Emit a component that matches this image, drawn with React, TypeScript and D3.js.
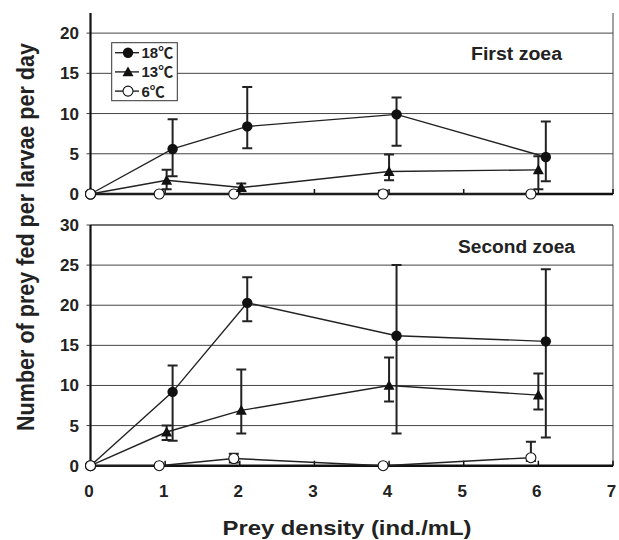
import React from "react";
import * as d3 from "d3";

// prey density (ind./mL), shifted a bit per series as in the figure
const x18 = [0, 1.1, 2.1, 4.1, 6.1];
const x13 = [0, 1.02, 2.02, 4.0, 6.0];
const x6 = [0, 0.92, 1.92, 3.92, 5.9];

// First zoea
const first18 = [0, 5.6, 8.4, 9.9, 4.6];
const first18Hi = [0, 9.3, 13.3, 12.0, 9.0];
const first18Lo = [0, 2.2, 5.7, 6.0, 1.6];
const first13 = [0, 1.7, 0.8, 2.8, 3.0];
const first13Hi = [0, 3.0, 1.3, 4.9, 4.7];
const first13Lo = [0, 0.6, 0.4, 1.7, 0.6];
const first6 = [0, 0, 0, 0, 0];
const first6Hi = [0, 0, 0.2, 0.4, 0.2];
const first6Lo = [0, 0, 0, 0, 0];

// Second zoea
const second18 = [0, 9.2, 20.3, 16.2, 15.5];
const second18Hi = [0, 12.5, 23.5, 25.0, 24.5];
const second18Lo = [0, 3.1, 18.0, 4.0, 3.5];
const second13 = [0, 4.2, 6.9, 10.0, 8.8];
const second13Hi = [0, 5.0, 12.0, 13.5, 11.5];
const second13Lo = [0, 3.2, 4.0, 8.0, 7.0];
const second6 = [0, 0, 0.9, 0, 1.0];
const second6Hi = [0, 0, 1.5, 0, 3.0];
const second6Lo = [0, 0, 0.4, 0, 0.6];

const xTicks = [0, 1, 2, 3, 4, 5, 6, 7];
const firstTicks = [0, 5, 10, 15, 20];
const secondTicks = [0, 5, 10, 15, 20, 25, 30];
const legendLabels = ["18℃", "13℃", "6℃"];

const FONT = "'Liberation Sans', Arial, 'Noto Sans CJK JP', sans-serif";

type Series = { xs: number[]; ys: number[]; hi: number[]; lo: number[]; kind: string };

const x = d3.scaleLinear().domain([0, 7]).range([90.5, 613]);

const Marker = ({ kind, cx, cy }: { kind: string; cx: number; cy: number }) => {
  if (kind === "tri") {
    const s = 5.5;
    return <path d={`M${cx},${cy - s}L${cx + s},${cy + s * 0.8}L${cx - s},${cy + s * 0.8}Z`} fill="#111" />;
  }
  if (kind === "open") return <circle cx={cx} cy={cy} r={5} fill="#fff" stroke="#111" strokeWidth={1.1} />;
  return <circle cx={cx} cy={cy} r={5.2} fill="#111" />;
};

const Panel = ({
  y,
  ticks,
  series,
  label,
  labelX,
  labelY,
  labelW,
  topBorder,
  showXLabels,
}: {
  y: d3.ScaleLinear<number, number>;
  ticks: number[];
  series: Series[];
  label: string;
  labelX: number;
  labelY: number;
  labelW: number;
  topBorder: boolean;
  showXLabels: boolean;
}) => {
  const [y0, y1] = y.range();
  const line = (s: Series) =>
    d3
      .line<number>()
      .x((_, i) => x(s.xs[i]))
      .y((d) => y(d))(s.ys) as string;
  return (
    <g>
      {ticks
        .filter((t) => t > 0)
        .map((t) => (
          <line key={t} x1={x(0) - 4} x2={x(7)} y1={y(t)} y2={y(t)} stroke="#444" strokeWidth={1} />
        ))}
      {topBorder && <line x1={x(0)} x2={x(7)} y1={y1} y2={y1} stroke="#444" strokeWidth={1} />}
      <line x1={x(7)} x2={x(7)} y1={y1} y2={y0} stroke="#444" strokeWidth={1} />
      {ticks.map((t) => (
        <text key={t} x={79} y={y(t) + 6} textAnchor="end" fontSize={17} fontWeight="bold" fill="#222">
          {t}
        </text>
      ))}
      {xTicks.slice(1).map((t) => (
        <line key={t} x1={x(t)} x2={x(t)} y1={y0} y2={y0 - 5} stroke="#111" strokeWidth={1.5} />
      ))}
      {showXLabels &&
        xTicks.map((t) => (
          <text key={t} x={x(t) - 1.5} y={497} textAnchor="middle" fontSize={17} fontWeight="bold" fill="#222">
            {t}
          </text>
        ))}
      <line x1={x(0)} x2={x(0)} y1={y1} y2={y0} stroke="#111" strokeWidth={2.2} />
      <line x1={x(0)} x2={x(7)} y1={y0} y2={y0} stroke="#111" strokeWidth={2.6} />
      {series.map((s, k) => (
        <path key={k} d={line(s)} fill="none" stroke="#222" strokeWidth={1.4} />
      ))}
      {series.map((s, k) =>
        s.ys.map((v, i) => {
          if (i === 0) return null;
          const cx = x(s.xs[i]);
          const parts = [];
          if (s.hi[i] > v)
            parts.push(
              <path key="h" d={`M${cx},${y(v)}V${y(s.hi[i])}M${cx - 5},${y(s.hi[i])}H${cx + 5}`} stroke="#222" strokeWidth={2} fill="none" />
            );
          if (s.lo[i] < v)
            parts.push(
              <path key="l" d={`M${cx},${y(v)}V${y(s.lo[i])}M${cx - 5},${y(s.lo[i])}H${cx + 5}`} stroke="#222" strokeWidth={2} fill="none" />
            );
          return <g key={`${k}-${i}`}>{parts}</g>;
        })
      )}
      {series.map((s, k) =>
        s.ys.map((v, i) => <Marker key={`${k}m${i}`} kind={i === 0 ? "open" : s.kind} cx={x(s.xs[i])} cy={y(v)} />)
      )}
      <text
        x={labelX}
        y={labelY}
        fontSize={18}
        fontWeight="bold"
        fill="#222"
        textLength={labelW}
        lengthAdjust="spacingAndGlyphs"
      >
        {label}
      </text>
    </g>
  );
};

export default function App() {
  const yFirst = d3.scaleLinear().domain([0, 22.5]).range([194, 13]);
  const ySecond = d3.scaleLinear().domain([0, 30]).range([465.7, 225]);

  const firstSeries: Series[] = [
    { xs: x6, ys: first6, hi: first6Hi, lo: first6Lo, kind: "open" },
    { xs: x13, ys: first13, hi: first13Hi, lo: first13Lo, kind: "tri" },
    { xs: x18, ys: first18, hi: first18Hi, lo: first18Lo, kind: "dot" },
  ];
  const secondSeries: Series[] = [
    { xs: x6, ys: second6, hi: second6Hi, lo: second6Lo, kind: "open" },
    { xs: x13, ys: second13, hi: second13Hi, lo: second13Lo, kind: "tri" },
    { xs: x18, ys: second18, hi: second18Hi, lo: second18Lo, kind: "dot" },
  ];
  const legendKinds = ["dot", "tri", "open"];

  return (
    <svg
      width={619}
      height={540}
      style={{ position: "absolute", left: 0, top: 0, background: "#fff" }}
      fontFamily={FONT}
    >
      <Panel y={yFirst} ticks={firstTicks} series={firstSeries} label="First zoea" labelX={471} labelY={60} labelW={91} topBorder={false} showXLabels={false} />
      <Panel y={ySecond} ticks={secondTicks} series={secondSeries} label="Second zoea" labelX={458} labelY={253} labelW={117} topBorder={true} showXLabels={true} />

      <g>
        <rect x={111.7} y={42.7} width={65.6} height={58} fill="#fff" stroke="#333" strokeWidth={1} />
        {legendLabels.map((lab, i) => {
          const ly = 52.7 + i * 19.2;
          return (
            <g key={lab}>
              <line x1={115} x2={139} y1={ly} y2={ly} stroke="#222" strokeWidth={1.4} />
              <Marker kind={legendKinds[i]} cx={128} cy={ly} />
              <text x={141.5} y={ly + 5.5} fontSize={15} fontWeight="bold" fill="#222">
                {lab}
              </text>
            </g>
          );
        })}
      </g>

      <text
        transform="translate(34,237) rotate(-90)"
        textAnchor="middle"
        fontSize={23}
        fontWeight="bold"
        fill="#222"
        textLength={388}
        lengthAdjust="spacingAndGlyphs"
      >
        Number of prey fed per larvae per day
      </text>
      <text
        x={347}
        y={535}
        textAnchor="middle"
        fontSize={21}
        fontWeight="bold"
        fill="#222"
        textLength={249}
        lengthAdjust="spacingAndGlyphs"
      >
        Prey density (ind./mL)
      </text>
    </svg>
  );
}
